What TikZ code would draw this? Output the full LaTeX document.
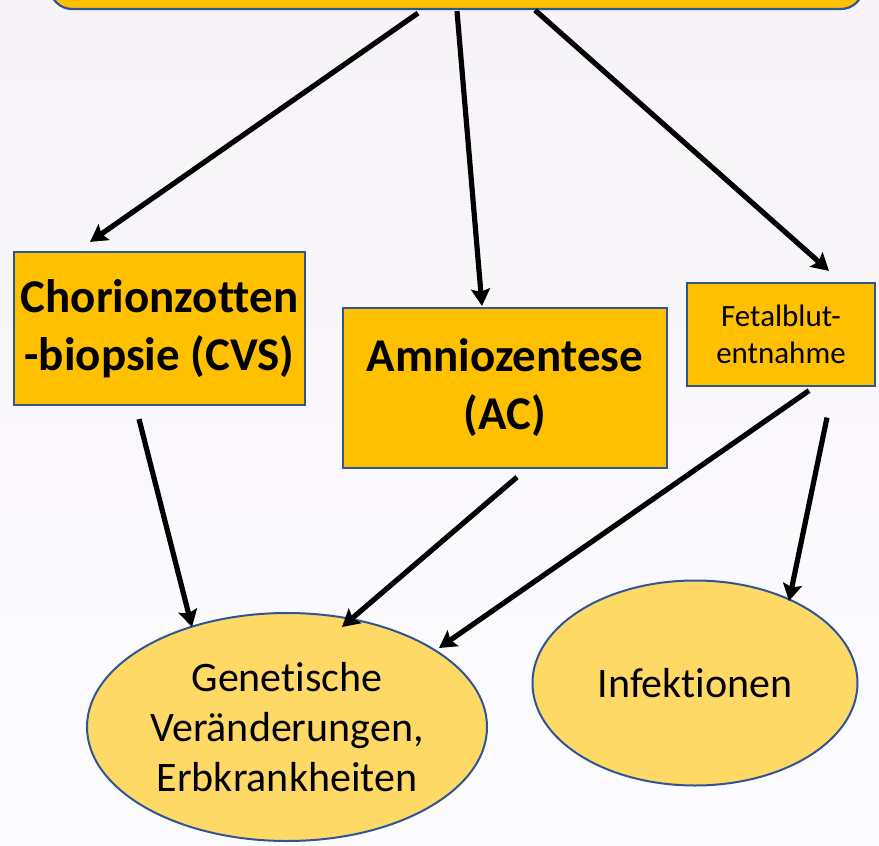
\documentclass[tikz,border=0pt]{standalone}
\usepackage{fontspec}
\setmainfont{Carlito}[Ligatures=NoCommon]
\usepackage{tikz}
\usetikzlibrary{arrows.meta,shapes.geometric}
\definecolor{boxgold}{RGB}{255,192,0}
\definecolor{ovalgold}{RGB}{255,217,102}
\definecolor{edgeblue}{RGB}{47,85,151}
\definecolor{bgtop}{RGB}{247,243,248}
\definecolor{bgbottom}{RGB}{252,252,255}

\begin{document}
\begin{tikzpicture}[x=1pt, y=-1pt, >={Stealth[length=17pt,width=19pt,inset=3pt]},
    method/.style={draw=edgeblue, line width=2.2pt, fill=boxgold, inner sep=0pt, align=center},
    result/.style={ellipse, draw=edgeblue, line width=2pt, fill=ovalgold, inner sep=0pt, align=center},
    arr/.style={->, line width=5.2pt, black}]
    \useasboundingbox (0,0) rectangle (879,846);
    \clip (0,0) rectangle (879,846);
    \shade[top color=bgtop, bottom color=bgbottom] (0,0) rectangle (879,846);

    % top box, cut off by the page edge
    \node[method, rounded corners=22pt, minimum width=813pt, minimum height=100pt] (head) at (456.5,-41) {};

    % methods
    \node[method, minimum width=291pt, minimum height=153pt, font=\fontsize{47}{58}\selectfont\bfseries] (cvs) at (159.5,328.5) {Chorionzotten\\-biopsie (CVS)};
    \node[method, minimum width=324pt, minimum height=160pt, font=\fontsize{47}{58}\selectfont\bfseries] (amnio) at (505,388) {Amniozentese\\(AC)};
    \node[method, minimum width=188pt, minimum height=103pt, font=\fontsize{31}{37}\selectfont] (fetal) at (781,334.5) {Fetalblut-\\entnahme};

    % findings
    \node[result, minimum width=400pt, minimum height=228pt, font=\fontsize{42}{50}\selectfont] (genetic) at (287,727) {Genetische\\Veränderungen,\\Erbkrankheiten};
    \node[result, minimum width=325pt, minimum height=205pt, font=\fontsize{42}{50}\selectfont] (infect) at (695,683) {Infektionen};

    \draw[arr] ([xshift=-38.5pt,yshift=-3pt]head.south) -- ([xshift=-69.5pt,yshift=9pt]cvs.north);
    \draw[arr] ([xshift=0.5pt,yshift=-1pt]head.south) -- ([xshift=-23pt,yshift=1pt]amnio.north);
    \draw[arr] ([xshift=78.5pt]head.south) -- ([xshift=48pt,yshift=11pt]fetal.north);
    \draw[arr] ([xshift=-20.5pt,yshift=-13pt]cvs.south) -- ([xshift=-95pt,yshift=100pt]genetic.center);
    \draw[arr] ([xshift=12pt,yshift=-8pt]amnio.south) -- ([xshift=55pt,yshift=100pt]genetic.center);
    \draw[arr] ([xshift=28pt,yshift=-3.5pt]fetal.south) -- ([xshift=152pt,yshift=79pt]genetic.center);
    \draw[arr] ([xshift=46pt,yshift=-30.5pt]fetal.south) -- ([xshift=94pt,yshift=82pt]infect.center);
\end{tikzpicture}
\end{document}
